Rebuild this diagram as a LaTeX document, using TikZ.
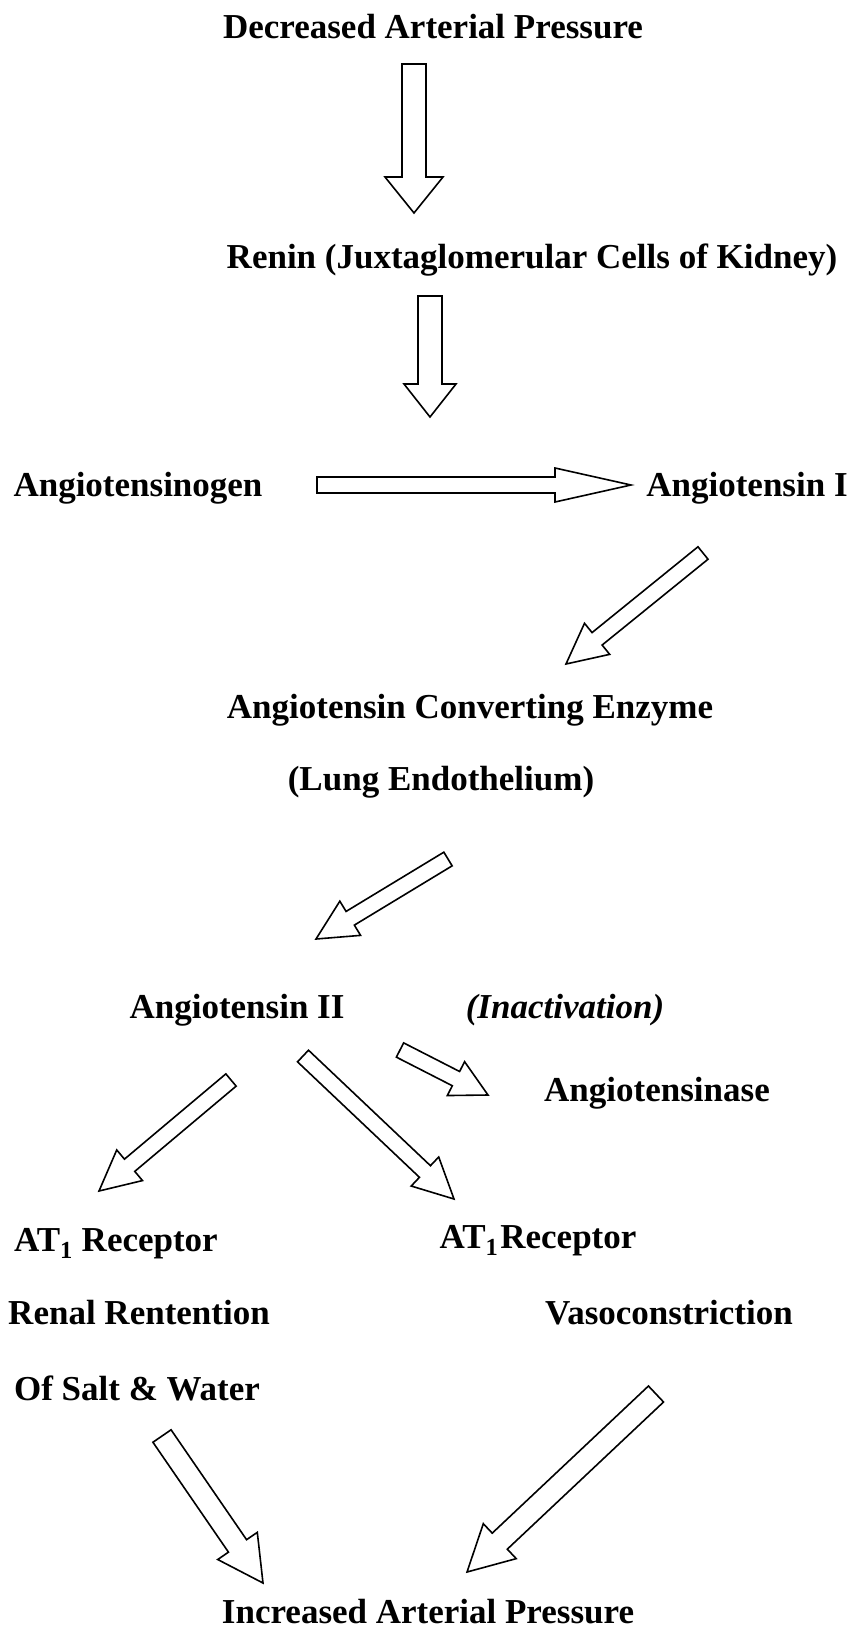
\documentclass[tikz,border=0pt]{standalone}
\usepackage{fontspec}
\setmainfont{Liberation Serif}
\usetikzlibrary{calc}
\tikzset{
  lbl/.style={inner sep=0pt, anchor=base, font=\fontsize{35bp}{42bp}\selectfont\bfseries},
  lbli/.style={lbl, font=\fontsize{35bp}{42bp}\selectfont\bfseries\itshape},
  blk/.style={draw=black, fill=white, line width=1.6bp, line join=miter}
}
% block arrow: tail, tip, shaft half width, head half width, head length
\newcommand\blockarrow[5]{%
  \draw[blk] ($(#1)!#3!90:(#2)$)
    -- ($($(#2)!#5!(#1)$)!#3!-90:(#1)$)
    -- ($($(#2)!#5!(#1)$)!#4!-90:(#1)$)
    -- (#2)
    -- ($($(#2)!#5!(#1)$)!#4!90:(#1)$)
    -- ($($(#2)!#5!(#1)$)!#3!90:(#1)$)
    -- ($(#1)!#3!-90:(#2)$) -- cycle;
}
\begin{document}
\begin{tikzpicture}[x=1bp,y=-1bp]
\fill[white] (0,0) rectangle (852,1627);
\useasboundingbox (0,0) rectangle (852,1627);

\node[lbl] (dap) at (433,39) {Decreased Arterial Pressure};
\node[lbl] (ren) at (532,268) {Renin (Juxtaglomerular Cells of Kidney)};
\node[lbl] (agn) at (138,496) {Angiotensinogen};
\node[lbl] (a1) at (747,496) {Angiotensin I};
\node[lbl] (ace) at (470,718) {Angiotensin Converting Enzyme};
\node[lbl] (lung) at (441,790) {(Lung Endothelium)};
\node[lbl] (a2) at (237,1018) {Angiotensin II};
\node[lbli] (inact) at (565,1018) {(Inactivation)};
\node[lbl] (ase) at (657,1101) {Angiotensinase};
\node[lbl] (at1l) at (116,1251) {AT\textsubscript{1} Receptor};
\node[lbl] (at1r) at (538,1248) {AT\textsubscript{1}\kern2bp Receptor};
\node[lbl] (renal) at (139,1324) {Renal Rentention};
\node[lbl] (vaso) at (669,1324) {Vasoconstriction};
\node[lbl] (salt) at (137,1400) {Of Salt \& Water};
\node[lbl] (iap) at (428,1623) {Increased Arterial Pressure};

% arrow end points
\coordinate (t1) at (414,64);   \coordinate (h1) at (414,213);
\coordinate (t2) at (430,296);  \coordinate (h2) at (430,417);
\coordinate (t3) at (317,485);  \coordinate (h3) at (631,485);
\coordinate (t4) at (703,553);  \coordinate (h4) at (566,664);
\coordinate (t5) at (448,859);  \coordinate (h5) at (316,939);
\coordinate (t6) at (400,1050); \coordinate (h6) at (488,1095);
\coordinate (t7) at (231,1080); \coordinate (h7) at (99,1191);
\coordinate (t8) at (303,1056); \coordinate (h8) at (454,1199);
\coordinate (t9) at (162,1436); \coordinate (h9) at (263,1583);
\coordinate (t10) at (656,1394); \coordinate (h10) at (467,1572);

\blockarrow{t1}{h1}{12bp}{29bp}{36bp}
\blockarrow{t2}{h2}{12bp}{26bp}{33bp}
\blockarrow{t3}{h3}{8bp}{17bp}{76bp}
\blockarrow{t4}{h4}{8bp}{20bp}{40bp}
\blockarrow{t5}{h5}{8bp}{20bp}{40bp}
\blockarrow{t6}{h6}{8bp}{19bp}{36bp}
\blockarrow{t7}{h7}{8bp}{20bp}{40bp}
\blockarrow{t8}{h8}{8bp}{20bp}{40bp}
\blockarrow{t9}{h9}{11bp}{24bp}{45bp}
\blockarrow{t10}{h10}{11bp}{24bp}{45bp}
\end{tikzpicture}
\end{document}
